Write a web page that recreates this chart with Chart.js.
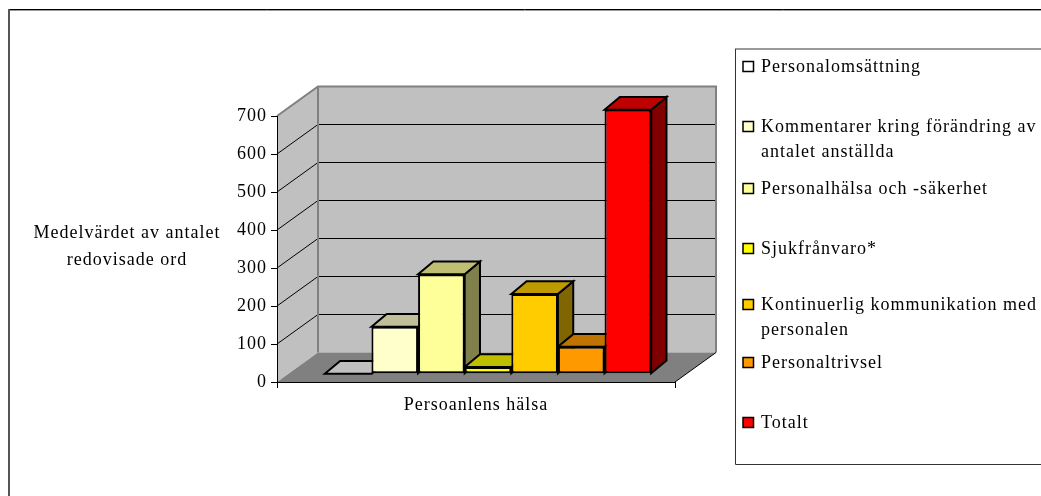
<!DOCTYPE html>
<html lang="sv">
<head>
<meta charset="utf-8">
<script src="https://cdn.jsdelivr.net/npm/chart.js@4"></script>
<style>
html,body{margin:0;padding:0;background:#fff;overflow:hidden}
#wrap{position:relative;width:1041px;height:496px}
</style>
</head>
<body>
<div id="wrap"><canvas id="c" width="1041" height="496"></canvas></div>
<script>
const categories = ['Persoanlens hälsa'];
const seriesNames = ['Personalomsättning','Kommentarer kring förändring av antalet anställda','Personalhälsa och -säkerhet','Sjukfrånvaro*','Kontinuerlig kommunikation med personalen','Personaltrivsel','Totalt'];
const seriesValues = [0, 124, 262, 18, 210, 71, 695];
const seriesColors = ['#ffffff','#ffffcc','#ffff99','#ffff00','#ffcc00','#ff9900','#ff0000'];
const yTicks = [0,100,200,300,400,500,600,700];
const yTitleLines = ['Medelvärdet av antalet','redovisade ord'];
const legendLines = [
  ['Personalomsättning'],
  ['Kommentarer kring förändring av','antalet anställda'],
  ['Personalhälsa och -säkerhet'],
  ['Sjukfrånvaro*'],
  ['Kontinuerlig kommunikation med','personalen'],
  ['Personaltrivsel'],
  ['Totalt']
];
const legendRowY = [67,127,189,249,305,363,423];

const SERIF = '"Liberation Serif","Times New Roman",serif';
const TRACKING = '1px';
const WALL = {dx:41, dy:-29.5};      // floor depth of the 3D box
const BAR_PLANE = {dx:12, dy:-8.2};  // bars stand part way into the box
const BAR_DEPTH = {dx:15.3, dy:-12.7};

function shade(hex,f){
  const n=parseInt(hex.slice(1),16);
  return `rgb(${Math.round((n>>16&255)*f)},${Math.round((n>>8&255)*f)},${Math.round((n&255)*f)})`;
}
function poly(ctx,pts,fill,stroke,lw){
  ctx.beginPath();
  pts.forEach((p,i)=>i?ctx.lineTo(p[0],p[1]):ctx.moveTo(p[0],p[1]));
  ctx.closePath();
  if(fill){ctx.fillStyle=fill;ctx.fill();}
  if(stroke){ctx.strokeStyle=stroke;ctx.lineWidth=lw;ctx.lineJoin='miter';ctx.stroke();}
}

// Frame, walls and floor of the 3D box, placed from the value and category scales.
const box3d = {
  id:'box3d',
  beforeDraw(chart){
    const {ctx,scales:{x,y}}=chart;
    const L=x.left,R=x.right,B=y.getPixelForValue(0),T=y.getPixelForValue(700);
    const dx=WALL.dx,dy=WALL.dy;
    ctx.letterSpacing=TRACKING;
    ctx.save();
    ctx.fillStyle='#fff';ctx.fillRect(0,0,chart.width,chart.height);
    ctx.lineWidth=1;
    ctx.strokeStyle='#999';
    ctx.beginPath();ctx.moveTo(10,10.5);ctx.lineTo(1041,10.5);ctx.stroke();
    ctx.strokeStyle='#000';
    ctx.beginPath();ctx.moveTo(8,9.5);ctx.lineTo(1041,9.5);ctx.stroke();
    ctx.strokeStyle='#555';ctx.lineWidth=2;
    ctx.beginPath();ctx.moveTo(9,496);ctx.lineTo(9,9);ctx.stroke();
    poly(ctx,[[L,B],[L+dx,B+dy],[L+dx,T+dy],[L,T]],'#c0c0c0');
    poly(ctx,[[L+dx,B+dy],[R+dx,B+dy],[R+dx,T+dy],[L+dx,T+dy]],'#c0c0c0');
    poly(ctx,[[L,B],[L+dx,B+dy],[R+dx,B+dy],[R,B]],'#808080');
    ctx.strokeStyle='#000';ctx.lineWidth=1;
    yTicks.slice(1,-1).forEach(v=>{
      const p=y.getPixelForValue(v);
      ctx.beginPath();ctx.moveTo(L,p);ctx.lineTo(L+dx,p+dy);ctx.lineTo(R+dx,p+dy);ctx.stroke();
    });
    ctx.strokeStyle='#808080';ctx.lineWidth=2;
    ctx.beginPath();ctx.moveTo(L,T);ctx.lineTo(L+dx,T+dy);ctx.lineTo(R+dx,T+dy);ctx.lineTo(R+dx,B+dy);ctx.stroke();
    ctx.beginPath();ctx.moveTo(L+dx,T+dy);ctx.lineTo(L+dx,B+dy);ctx.stroke();
    ctx.strokeStyle='#000';ctx.lineWidth=1;
    ctx.beginPath();ctx.moveTo(R,B);ctx.lineTo(R+dx,B+dy);ctx.stroke();
    ctx.restore();
  }
};

// Side and top faces of the bars, left to right; the front faces are the library's own bars.
const bars3d = {
  id:'bars3d',
  beforeDatasetsDraw(chart){
    const {ctx}=chart;
    ctx.save();
    ctx.translate(BAR_PLANE.dx,BAR_PLANE.dy);
    const dx=BAR_DEPTH.dx,dy=BAR_DEPTH.dy;
    seriesValues.forEach((v,i)=>{
      const el=chart.getDatasetMeta(i).data[0];
      const color=seriesColors[i];
      const l=el.x-el.width/2,r=el.x+el.width/2,t=el.y,b=el.base;
      poly(ctx,[[r,b],[r+dx,b+dy],[r+dx,t+dy],[r,t]],shade(color,.5),'#000',2);
      poly(ctx,[[l,t],[l+dx,t+dy],[r+dx,t+dy],[r,t]],i===0?'#c0c0c0':shade(color,.75),'#000',2);
    });
  },
  afterDatasetsDraw(chart){ chart.ctx.restore(); }
};

// Horizontal value-axis caption and the boxed legend with its wrapped entries.
const captions = {
  id:'captions',
  afterDraw(chart){
    const {ctx}=chart;
    ctx.save();
    ctx.textBaseline='middle';
    ctx.fillStyle='#000';
    ctx.font='18px '+SERIF;
    ctx.letterSpacing=TRACKING;
    ctx.textAlign='center';
    yTitleLines.forEach((t,i)=>ctx.fillText(t,127,233+i*27));
    ctx.strokeStyle='#777';ctx.lineWidth=1.5;
    ctx.beginPath();ctx.moveTo(1041,49);ctx.lineTo(735,49);ctx.stroke();
    ctx.strokeStyle='#333';ctx.lineWidth=1;
    ctx.beginPath();ctx.moveTo(735.5,49);ctx.lineTo(735.5,464.5);ctx.lineTo(1041,464.5);ctx.stroke();
    ctx.textAlign='left';
    legendLines.forEach((entry,i)=>{
      const cy=legendRowY[i];
      ctx.fillStyle=seriesColors[i];ctx.fillRect(743,cy-5.5,10.5,10);
      ctx.strokeStyle='#000';ctx.lineWidth=1.5;ctx.strokeRect(743,cy-5.5,10.5,10);
      ctx.fillStyle='#000';
      entry.forEach((line,j)=>ctx.fillText(line,761,cy+j*25));
    });
    ctx.restore();
  }
};

new Chart(document.getElementById('c'),{
  type:'bar',
  data:{
    labels:categories,
    datasets:seriesNames.map((name,i)=>({
      label:name,
      data:[seriesValues[i]],
      backgroundColor:seriesColors[i],
      borderColor:'#000',
      borderWidth:2,
      borderSkipped:false,
      categoryPercentage:.82,
      barPercentage:1,
      clip:false
    }))
  },
  options:{
    responsive:false,
    animation:false,
    layout:{padding:{left:217,right:366,top:116,bottom:54}},
    plugins:{legend:{display:false},tooltip:{enabled:false},title:{display:false}},
    scales:{
      x:{
        afterFit(s){s.height=60;},
        grid:{drawOnChartArea:false,color:'#000',tickLength:6,tickColor:'#000'},
        border:{color:'#000'},
        ticks:{color:'#000',font:{family:SERIF,size:18},padding:6,maxRotation:0}
      },
      y:{
        min:0,max:700,
        afterFit(s){s.width=60;},
        afterBuildTicks(s){s.ticks=yTicks.map(v=>({value:v}));},
        grid:{drawOnChartArea:false,color:'#000',tickLength:6,tickColor:'#000'},
        border:{color:'#000'},
        ticks:{color:'#000',font:{family:SERIF,size:18},padding:4}
      }
    }
  },
  plugins:[box3d,bars3d,captions]
});
</script>
</body>
</html>
